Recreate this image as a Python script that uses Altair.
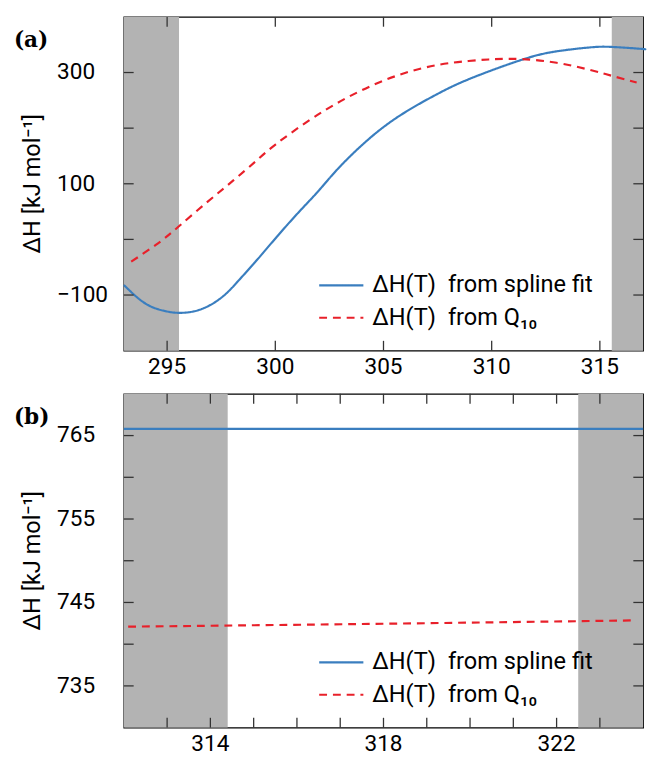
import altair as alt
import pandas as pd

# ---------------- data ----------------
T_spline_a = [293.0, 293.67, 294.27, 294.88, 295.56, 296.54, 297.53, 298.28, 299.04,
              299.79, 300.55, 301.3, 302.06, 303.04, 304.55, 306.06, 307.57,
              309.07, 311.4, 312.99, 314.5, 315.56, 316.92, 317.0]
H_spline_a = [-82, -106, -121, -128.5, -132, -126, -104, -75, -42,
              -8, 26, 58, 90, 133, 188, 230, 263,
              290, 323, 338, 345, 346, 342.5, 342]

T_q10_a = [293.34, 294.58, 295.56, 296.85, 298.06, 299.11, 300.02, 301.53, 303.04,
           304.55, 306.06, 307.57, 308.93, 310.12, 311.4, 313.0, 314.5, 315.56, 316.7]
H_q10_a = [-40, -7, 24, 67, 106, 141, 171, 213, 249,
           278, 300, 314, 320.7, 324, 324, 317.5, 305, 294, 282]

T_spline_b = [312.0, 324.0]
H_spline_b = [765.8, 765.8]
T_q10_b = [312.1, 318.0, 323.8]
H_q10_b = [742.1, 742.45, 742.85]

shade_a_start = [293.0, 315.55]
shade_a_end = [295.55, 317.0]
shade_b_start = [312.0, 322.5]
shade_b_end = [314.4, 324.0]

xdom_a = [293, 317]
ydom_a = [-200, 400]
xdom_b = [312, 324]
ydom_b = [730, 770]

# tick positions (inward ticks on all four sides)
xticks_a = [295, 300, 305, 310, 315]
yticks_a = [-100, 0, 100, 200, 300]
xticks_b = [313, 314, 315, 316, 317, 318, 319, 320, 321, 322, 323]
yticks_b = [735, 740, 745, 750, 755, 760, 765]

# tick labels
xlabels_a = [295, 300, 305, 310, 315]
ylabels_a = [300, 100, -100]
xlabels_b = [314, 318, 322]
ylabels_b = [765, 755, 745, 735]

LAB_S = "ΔH(T)\u2002from spline fit"
LAB_Q = "ΔH(T)\u2002from Q₁₀"
Y_TITLE = "ΔH [kJ mol⁻¹]"

FONT = "Roboto"
FS = 23
BLUE = "#3a7ebf"
RED = "#e8202a"
GRAY = "#b3b3b3"
TICKC = "#333333"
TL = 10  # inward tick length
W, H = 529, 340


def fmt(v):
    s = str(int(v)) if float(v).is_integer() else str(v)
    return s.replace("-", "\u2212")


def lines_df(ts, hs, tq, hq):
    return pd.concat([
        pd.DataFrame({"T": ts, "dH": hs, "series": LAB_S}),
        pd.DataFrame({"T": tq, "dH": hq, "series": LAB_Q}),
    ], ignore_index=True)


def panel(df, s0, s1, xdom, ydom, xt, yt, xl, yl, tag):
    xs = alt.Scale(domain=xdom, nice=False, zero=False)
    ys = alt.Scale(domain=ydom, nice=False, zero=False)
    X = lambda f: alt.X(f, scale=xs, axis=None)
    Y = lambda f: alt.Y(f, scale=ys, axis=None)

    shade = alt.Chart(pd.DataFrame({"T": s0, "T1": s1})).mark_rect(color=GRAY).encode(
        x=X("T:Q"), x2="T1:Q", y=alt.value(0), y2=alt.value(H))

    xtdf = pd.DataFrame({"T": xt})
    ytdf = pd.DataFrame({"dH": yt})
    rk = dict(color=TICKC, strokeWidth=1.3)
    tick_bottom = alt.Chart(xtdf).mark_rule(**rk).encode(
        x=X("T:Q"), y=alt.value(H - TL), y2=alt.value(H))
    tick_top = alt.Chart(xtdf).mark_rule(**rk).encode(
        x=X("T:Q"), y=alt.value(0), y2=alt.value(TL))
    tick_left = alt.Chart(ytdf).mark_rule(**rk).encode(
        y=Y("dH:Q"), x=alt.value(0), x2=alt.value(TL))
    tick_right = alt.Chart(ytdf).mark_rule(**rk).encode(
        y=Y("dH:Q"), x=alt.value(W - TL), x2=alt.value(W))

    xl_df = pd.DataFrame({"T": xl, "lab": [fmt(v) for v in xl]})
    yl_df = pd.DataFrame({"dH": yl, "lab": [fmt(v) for v in yl]})
    tk = dict(font=FONT, fontSize=FS, color="black")
    xlab = alt.Chart(xl_df).mark_text(align="center", baseline="top", **tk).encode(
        x=X("T:Q"), y=alt.value(H + 6), text="lab:N")
    ylab = alt.Chart(yl_df).mark_text(align="left", baseline="middle", **tk).encode(
        y=Y("dH:Q"), x=alt.value(-68), text="lab:N")
    ytitle = alt.Chart(pd.DataFrame({"t": [Y_TITLE]})).mark_text(
        font=FONT, fontSize=24, color="black", angle=270, align="center", baseline="middle"
    ).encode(text="t:N", x=alt.value(-92), y=alt.value(H / 2))

    leg = alt.Legend(title=None, orient="none", legendX=205, legendY=257)
    lines = alt.Chart(df).mark_line(strokeWidth=2.2, interpolate="natural").encode(
        x=X("T:Q"),
        y=Y("dH:Q"),
        color=alt.Color("series:N", scale=alt.Scale(domain=[LAB_S, LAB_Q], range=[BLUE, RED]),
                        legend=leg),
        strokeDash=alt.StrokeDash("series:N",
                                  scale=alt.Scale(domain=[LAB_S, LAB_Q], range=[[1, 0], [8, 6]]),
                                  legend=leg),
        detail="series:N",
    )
    label = alt.Chart(pd.DataFrame({"t": [tag]})).mark_text(
        font="DejaVu Serif", fontWeight="bold", fontSize=22, align="left",
        baseline="middle", color="black"
    ).encode(text="t:N", x=alt.value(-112), y=alt.value(24))
    return alt.layer(shade, lines, tick_bottom, tick_top, tick_left, tick_right,
                     xlab, ylab, ytitle, label).properties(width=W, height=H)


top = panel(lines_df(T_spline_a, H_spline_a, T_q10_a, H_q10_a),
            shade_a_start, shade_a_end, xdom_a, ydom_a,
            xticks_a, yticks_a, xlabels_a, ylabels_a, "(a)")
bottom = panel(lines_df(T_spline_b, H_spline_b, T_q10_b, H_q10_b),
               shade_b_start, shade_b_end, xdom_b, ydom_b,
               xticks_b, yticks_b, xlabels_b, ylabels_b, "(b)")

chart = alt.vconcat(top, bottom, spacing=44, bounds="flush").resolve_scale(
    color="independent", strokeDash="independent"
).resolve_legend(
    color="independent", strokeDash="independent"
).properties(
    padding={"left": 5, "top": 0, "right": 0, "bottom": 0}
).configure_view(
    stroke="black", strokeWidth=1.3
).configure_legend(
    labelFont=FONT, labelFontSize=24, labelColor="black", labelLimit=400,
    symbolType="M-1.5,0H1.5", symbolSize=900, symbolStrokeWidth=2.2,
    labelOffset=15, rowPadding=4, padding=0,
)

chart.save("out.html", embed_options={"renderer": "svg", "actions": False})
